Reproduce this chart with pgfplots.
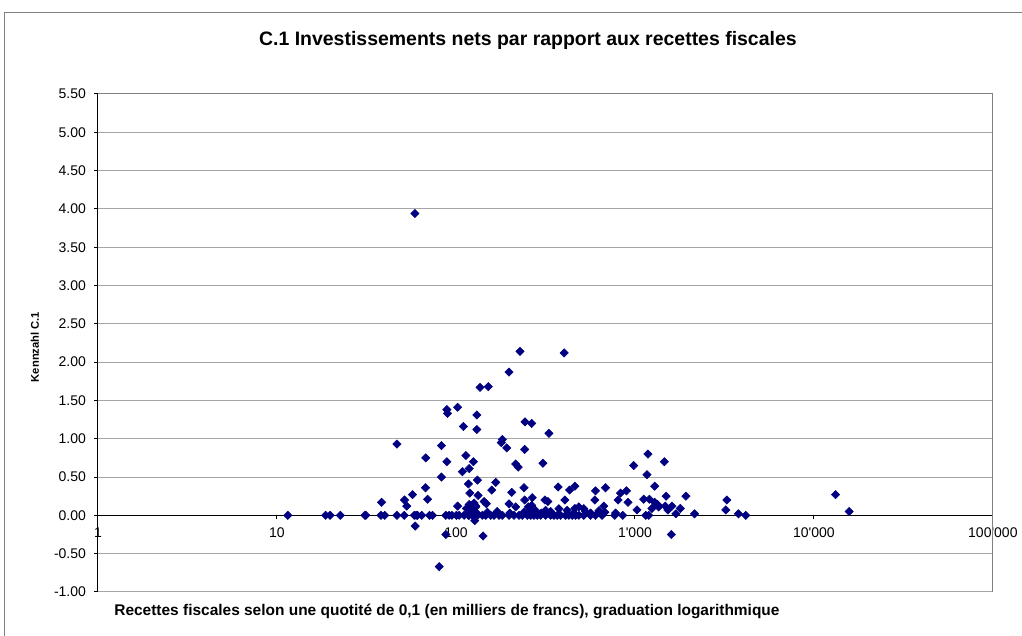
\documentclass[border=0pt]{standalone}
\usepackage{fontspec}
\setmainfont{Liberation Sans}
\usepackage{pgfplots}
\pgfplotsset{compat=1.18}
\definecolor{navyd}{RGB}{0,0,128}
\begin{document}
\begin{tikzpicture}
\begin{scope}[x=0.75pt,y=-0.75pt]
\path[use as bounding box] (0,0) rectangle (1022,636);
\draw[black!50, line width=0.75pt] (5,636) -- (5,12) -- (1022,12);
\node[font=\fontsize{14.6pt}{17pt}\selectfont\bfseries] at (528,40) {C.1 Investissements nets par rapport aux recettes fiscales};
\node[font=\fontsize{11.6pt}{14pt}\selectfont\bfseries] at (447,612) {Recettes fiscales selon une quotité de 0,1 (en milliers de francs), graduation logarithmique};
\node[font=\fontsize{8.4pt}{10pt}\selectfont\bfseries, rotate=90] at (35,347) {Kennzahl C.1};
\end{scope}
\begin{axis}[
  at={(73.5pt,-444pt)}, anchor=south west,
  scale only axis, width=671.25pt, height=373.5pt,
  xmode=log, xmin=1, xmax=100000,
  ymin=-1, ymax=5.5,
  axis x line=middle, axis y line=left,
  axis line style={-, black, line width=0.75pt},
  hide obscured x ticks=false, hide obscured y ticks=false,
  xminorticks=false,
  xtick={1,10,100,1000,10000,100000},
  xticklabels={1,10,100,1\textquotesingle000,10\textquotesingle000,100\textquotesingle000},
  ytick={-1,-0.5,0,0.5,1,1.5,2,2.5,3,3.5,4,4.5,5,5.5},
  yticklabels={-1.00,-0.50,0.00,0.50,1.00,1.50,2.00,2.50,3.00,3.50,4.00,4.50,5.00,5.50},
  ticklabel style={font=\fontsize{10.5pt}{12pt}\selectfont},
  yticklabel style={xshift=-2.5pt},
  xticklabel style={yshift=-3pt},
  xtick align=outside, ytick align=outside,
  major tick length=3pt,
  tick style={black, line width=0.75pt},
  ymajorgrids=true,
  major grid style={black!35, line width=0.75pt},
]
\draw[black!50, line width=0.75pt] (rel axis cs:1,0) -- (rel axis cs:1,1);
\draw[black!50, line width=0.75pt] (rel axis cs:0,1) -- (rel axis cs:1,1);
\addplot[only marks, draw=none, mark=square*, mark size=2.2pt, mark options={rotate=45, fill=navyd, draw=navyd}] table {
x y
11.5 0
18.7 0
19.8 0
22.6 0
31.0 0
31.4 0
38.1 0
40.0 0
46.8 0
51.4 0
58.5 0
59.9 0
61.0 0
64.4 0
71.2 0
74.0 0
87.8 0
91.6 0
94.9 0
100.6 0
104.2 0
111.1 0
117.4 0
118.5 0
123.6 0
129.1 0
131.8 0
140.5 0
146.8 0
156.5 0
163.3 0
174.1 0
181.6 0
198.0 0
211.1 0
225.0 0
234.8 0
250.4 0
261.5 0
272.8 0
284.6 0
297.3 0
317.0 0
338.1 0
352.7 0
368.0 0
384.3 0
409.9 0
427.6 0
446.1 0
466.0 0
486.2 0
518.2 0
564.8 0
602.3 0
655.6 0
771.7 0
855.1 0
1150 0
1195 0
4164 0
253.6 0.11
260 0.065
278 0.065
317 0.065
376 0.087
418 0.065
518 0.087
338 0.05
456 0.03
530 0.05
565 0.03
680 0.04
780 0.03
630 0.06
300 0.03
240 0.04
200 0.03
170 0.05
150 0.04
38.4 0.17
51.6 0.20
53.1 0.12
57.2 0.27
69.4 0.21
59.2 -0.14
80.6 -0.67
46.8 0.93
83.0 0.91
67.8 0.75
89.0 0.70
113.6 0.78
125.2 0.70
118.5 0.61
108.7 0.57
83.0 0.50
131.8 0.46
117.4 0.41
67.6 0.36
119.6 0.29
102.2 0.12
114.4 0.09
121.1 0.13
129.1 0.12
123.6 0.06
131.8 0.02
87.8 -0.25
127.4 -0.07
89.0 1.38
89.7 1.33
102.2 1.41
130.8 1.31
110.1 1.16
130.8 1.12
136.4 1.67
151.7 1.68
228.0 2.14
402.5 2.12
198.0 1.87
59.0 3.94
243.1 1.22
264.9 1.20
330.7 1.07
181.6 0.99
179.3 0.95
192.2 0.88
242.2 0.86
215.7 0.67
223.0 0.63
306.3 0.68
166.9 0.43
158.5 0.33
133.0 0.26
143.6 0.18
147.9 0.15
240.0 0.36
204.9 0.30
372.7 0.37
461.8 0.38
431.5 0.33
684.8 0.36
602.3 0.32
830.3 0.29
896.7 0.32
406.2 0.20
314.2 0.20
326.5 0.18
266.9 0.23
264.9 0.13
242.2 0.20
198.0 0.15
215.7 0.11
486.2 0.11
461.8 0.09
597 0.20
670 0.12
805.1 0.20
126.3 0.16
129.1 0.11
118.5 0.14
141.8 -0.27
1183 0.80
984.7 0.65
1460 0.70
1168 0.53
1290 0.38
915 0.17
1494 0.25
1927 0.25
1120 0.21
1205 0.21
1290 0.17
1340 0.14
1245 0.09
1357 0.11
1479 0.12
1610 0.12
1529 0.07
1793 0.09
1695 0.02
2154 0.02
1027 0.07
3262 0.20
3219 0.07
3790 0.02
1597 -0.25
13213 0.27
15750 0.05
};
\end{axis}
\end{tikzpicture}
\end{document}
